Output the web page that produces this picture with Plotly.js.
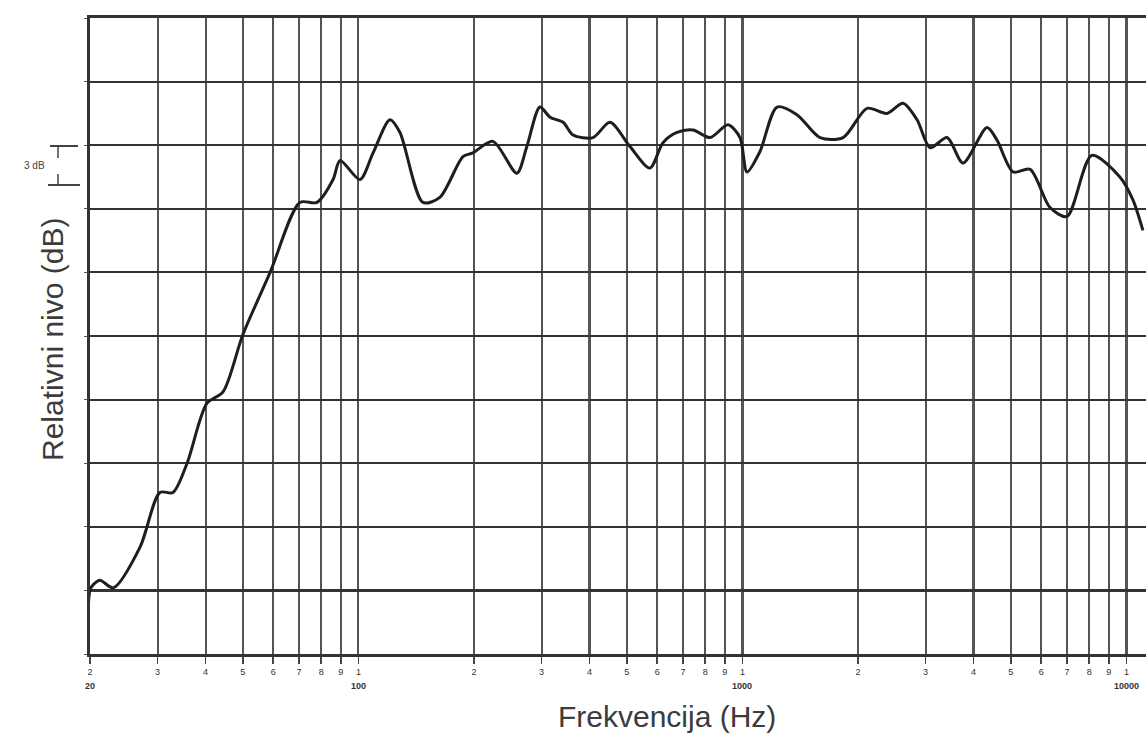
<!DOCTYPE html>
<html>
<head>
<meta charset="utf-8">
<script src="https://cdn.plot.ly/plotly-3.0.1.min.js"></script>
<style>html,body{margin:0;padding:0;background:#fff;}#chart{width:1146px;height:737px;}</style>
</head>
<body>
<div id="chart"></div>
<script>
// Frequency response data
const freqHz = [19.8,20.1,21.2,23,27,30.4,32.9,35.8,40.3,44.4,50,58.9,70.4,78,85.9,89.6,100.9,109.2,120.8,128.3,147.2,163,187.2,198.7,224,258.6,274.6,297,315.6,341.3,362.3,408.3,451.9,509.5,574.3,621.1,675.6,743.1,823.8,917.2,985.6,1028,1111,1231,1387,1592,1829,2111,2380,2619,2850,3082,3412,3754,4336,4603,5069,5614,6325,7000,8128,9617,10398,11040];
const levelDb = [3.5,5.2,5.8,5.2,8.4,12.7,12.7,15.0,19.7,20.6,25.1,30.0,35.5,35.5,37.3,38.8,37.3,39.4,42.0,41.0,35.5,35.9,39.1,39.4,40.3,37.8,39.9,43.0,42.2,41.8,40.8,40.6,41.8,39.9,38.2,40.2,41.0,41.2,40.6,41.6,40.6,37.9,39.5,43.0,42.4,40.6,40.6,42.9,42.5,43.3,42.0,39.8,40.6,38.6,41.4,40.4,37.9,38.1,35.1,34.4,39.2,37.5,35.7,33.3];

// Axis ticks
const tickFreqs = [20,30,40,50,60,70,80,90,100,200,300,400,500,600,700,800,900,1000,2000,3000,4000,5000,6000,7000,8000,9000,10000];
const tickDigits = ["2","3","4","5","6","7","8","9","1","2","3","4","5","6","7","8","9","1","2","3","4","5","6","7","8","9","1"];
const decadeFreqs = [20,100,1000,10000];
const decadeLabels = ["20","100","1000","10000"];

const xTitle = "Frekvencija (Hz)";
const yTitle = "Relativni nivo (dB)";
const scaleLabel = "3 dB";

const px2paperX = p => (p - 90) / 1056;
const px2paperY = p => (654 - p) / 636;

const annotations = decadeFreqs.map((f, i) => ({
  x: Math.log10(f), y: px2paperY(686), xref: 'x', yref: 'paper',
  text: '<b>' + decadeLabels[i] + '</b>', showarrow: false,
  font: {family: 'Liberation Sans, Arial, sans-serif', size: 9, color: '#333'},
  xanchor: 'center', yanchor: 'middle'
}));
annotations.push({
  x: px2paperX(667), y: px2paperY(716), xref: 'paper', yref: 'paper',
  text: xTitle, showarrow: false, xanchor: 'center', yanchor: 'middle',
  font: {family: 'Liberation Sans, Arial, sans-serif', size: 30, color: '#3c3c3c'}
});
annotations.push({
  x: px2paperX(52), y: px2paperY(340), xref: 'paper', yref: 'paper',
  text: yTitle, showarrow: false, textangle: -90, xanchor: 'center', yanchor: 'middle',
  font: {family: 'Liberation Sans, Arial, sans-serif', size: 30, color: '#3c3c3c'}
});
annotations.push({
  x: px2paperX(34), y: px2paperY(166), xref: 'paper', yref: 'paper',
  text: scaleLabel, showarrow: false, xanchor: 'center', yanchor: 'middle',
  font: {family: 'Liberation Sans, Arial, sans-serif', size: 10, color: '#444'}
});

const shapes = [
  {type:'line', xref:'paper', yref:'paper', x0:px2paperX(50), x1:px2paperX(78), y0:px2paperY(146), y1:px2paperY(146), line:{color:'#444', width:2}},
  {type:'line', xref:'paper', yref:'paper', x0:px2paperX(48), x1:px2paperX(80), y0:px2paperY(185), y1:px2paperY(185), line:{color:'#444', width:2}},
  {type:'line', xref:'paper', yref:'paper', x0:px2paperX(58), x1:px2paperX(58), y0:px2paperY(146), y1:px2paperY(158), line:{color:'#444', width:1.5}},
  {type:'line', xref:'paper', yref:'paper', x0:px2paperX(58), x1:px2paperX(58), y0:px2paperY(174), y1:px2paperY(185), line:{color:'#444', width:1.5}}
];

const trace = {
  x: freqHz, y: levelDb, type: 'scatter', mode: 'lines',
  line: {color: '#1e1e1e', width: 3, shape: 'spline', smoothing: 0.8},
  hoverinfo: 'x+y'
};

const layout = {
  width: 1146, height: 737,
  margin: {l: 90, r: 0, t: 18, b: 83},
  paper_bgcolor: '#fff', plot_bgcolor: '#fff',
  showlegend: false,
  xaxis: {
    type: 'log', range: [Math.log10(20), Math.log10(20) + 1056/384],
    tickmode: 'array', tickvals: tickFreqs, ticktext: tickDigits,
    showgrid: true, gridcolor: '#555', gridwidth: 2.2,
    showline: true, linecolor: '#333', linewidth: 3, mirror: true,
    ticks: 'outside', ticklen: 7, tickcolor: '#444', tickwidth: 1.5,
    tickfont: {family: 'Liberation Sans, Arial, sans-serif', size: 9, color: '#333'},
    zeroline: false, fixedrange: true
  },
  yaxis: {
    range: [0, 50], tickmode: 'linear', tick0: 0, dtick: 5,
    showticklabels: false, showgrid: true, gridcolor: '#333', gridwidth: 2.2,
    showline: true, linecolor: '#333', linewidth: 3, mirror: false,
    ticks: 'outside', ticklen: 3, tickcolor: '#555',
    zeroline: false, fixedrange: true
  },
  annotations: annotations,
  shapes: shapes
};

Plotly.newPlot('chart', [trace], layout, {displayModeBar: false, staticPlot: true});
</script>
</body>
</html>
